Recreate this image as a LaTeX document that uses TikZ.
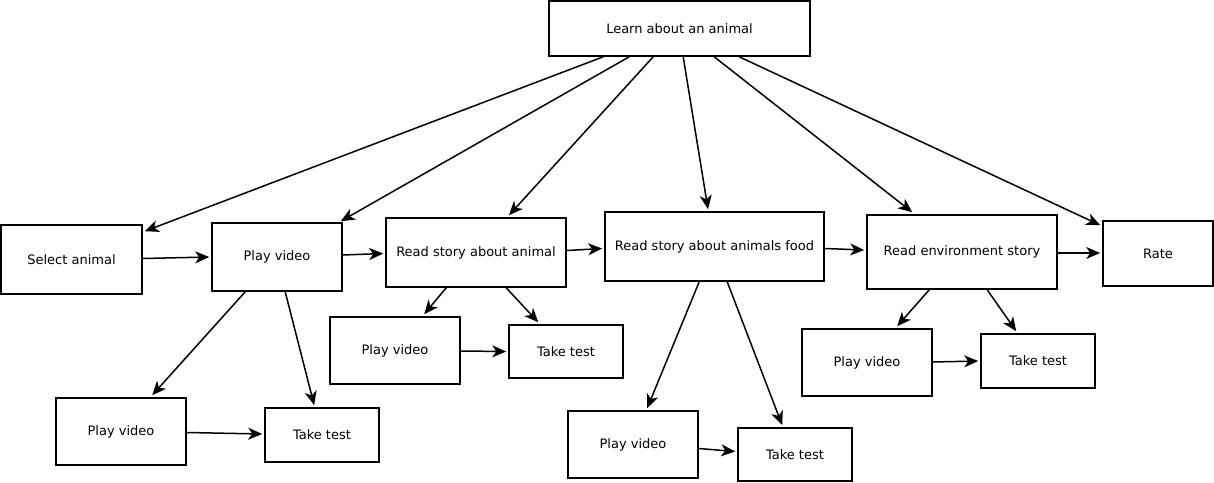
\documentclass[tikz,border=0pt]{standalone}
\usepackage{fontspec}
\setmainfont{DejaVu Sans}
\usetikzlibrary{arrows.meta,calc}
\begin{document}
\begin{tikzpicture}[x=1pt,y=-1pt,
  box/.style={draw,line width=1.6pt,fill=white,inner sep=0pt,font=\fontsize{13}{15}\selectfont},
  arr/.style={line width=1.5pt,-{Stealth[length=14pt,width=12pt,inset=4pt]}}]
\useasboundingbox[fill=white] (0,0) rectangle (1214,482);
\node[box,minimum width=261,minimum height=55] (learn) at (679.5,28.5) {Learn about an animal};
\node[box,minimum width=141,minimum height=69] (select) at (71.5,259.5) {Select animal};
\node[box,minimum width=130,minimum height=68] (pv1) at (277,257) {Play video};
\node[box,minimum width=180,minimum height=69] (rsa) at (476,252.5) {Read story about animal};
\node[box,minimum width=219,minimum height=69] (food) at (714.5,246.5) {Read story about animals food};
\node[box,minimum width=190,minimum height=74] (env) at (962,252) {Read environment story};
\node[box,minimum width=110,minimum height=65] (rate) at (1158,253.5) {Rate};
\node[box,minimum width=130,minimum height=67] (pv2) at (121,431.5) {Play video};
\node[box,minimum width=114,minimum height=54] (tt2) at (322,435) {Take test};
\node[box,minimum width=130,minimum height=67] (pv3) at (395,350.5) {Play video};
\node[box,minimum width=114,minimum height=53] (tt3) at (566,351.5) {Take test};
\node[box,minimum width=130,minimum height=67] (pv4) at (633,444.5) {Play video};
\node[box,minimum width=114,minimum height=53] (tt4) at (795,454.5) {Take test};
\node[box,minimum width=130,minimum height=67] (pv5) at (867,362.5) {Play video};
\node[box,minimum width=114,minimum height=54] (tt5) at (1038,361) {Take test};

\draw[arr] ($(learn.south west)+(55,0)$) -- ($(select.north east)+(2,7)$);
\draw[arr] ($(learn.south west)+(81,0)$) -- ($(pv1.north east)+(-2,-1)$);
\draw[arr] ($(learn.south west)+(105,0)$) -- ($(rsa.north)+(33,-2)$);
\draw[arr] ($(learn.south west)+(135,0)$) -- ($(food.north)+(-6.5,-2)$);
\draw[arr] ($(learn.south west)+(166,0)$) -- ($(env.north west)+(46,-2)$);
\draw[arr] ($(learn.south west)+(191,0)$) -- ($(rate.north west)+(-2,5)$);

\draw[arr] ($(select.east)+(0,-1)$) -- ($(pv1.west)+(-2,0)$);
\draw[arr] ($(pv1.east)+(0,-2)$) -- ($(rsa.west)+(-2,1)$);
\draw[arr] ($(rsa.east)+(0,-2)$) -- ($(food.west)+(-2,2)$);
\draw[arr] ($(food.east)+(0,2)$) -- ($(env.west)+(-2,-2)$);
\draw[arr] ($(env.east)+(0,1)$) -- ($(rate.west)+(-2,-0.5)$);

\draw[arr] ($(pv1.south west)+(34,0)$) -- ($(pv2.north west)+(97,-2)$);
\draw[arr] ($(pv1.south west)+(74,0)$) -- ($(tt2.north west)+(50,-2)$);
\draw[arr] ($(pv2.east)+(0,1)$) -- ($(tt2.west)+(-2,-1)$);

\draw[arr] ($(rsa.south west)+(61,0)$) -- ($(pv3.north west)+(95,-2)$);
\draw[arr] ($(rsa.south west)+(121,0)$) -- ($(tt3.north west)+(30,-2)$);
\draw[arr] ($(pv3.east)+(0,0.5)$) -- ($(tt3.west)+(-2,0)$);

\draw[arr] ($(food.south west)+(95,0)$) -- ($(pv4.north west)+(80,-2)$);
\draw[arr] ($(food.south west)+(123,0)$) -- ($(tt4.north west)+(45,-2)$);
\draw[arr] ($(pv4.east)+(0,4)$) -- ($(tt4.west)+(-2,-3)$);

\draw[arr] ($(env.south west)+(63,0)$) -- ($(pv5.north west)+(96,-2)$);
\draw[arr] ($(env.south west)+(121,0)$) -- ($(tt5.north west)+(36,-2)$);
\draw[arr] ($(pv5.east)+(0,-0.5)$) -- ($(tt5.west)+(-2,0)$);
\end{tikzpicture}
\end{document}
